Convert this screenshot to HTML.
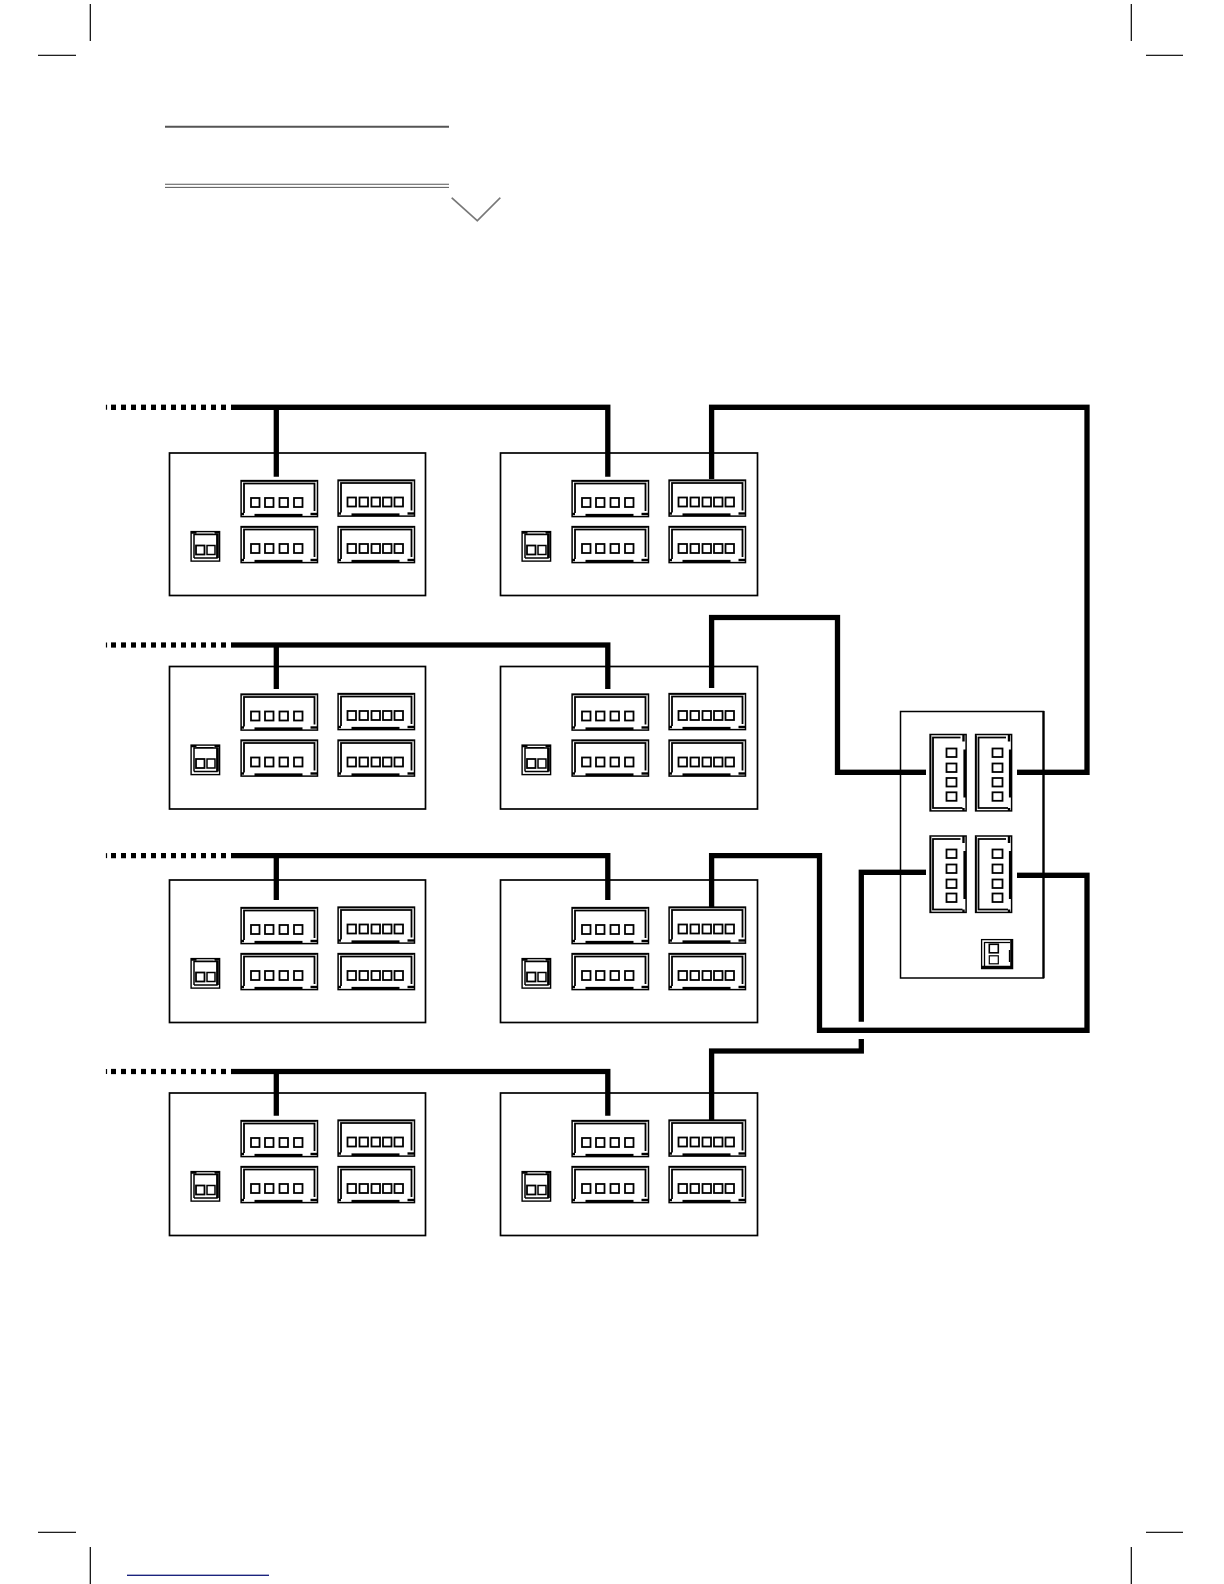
<!DOCTYPE html>
<html>
<head>
<meta charset="utf-8">
<style>
html,body{margin:0;padding:0;background:#fff;}
svg{display:block;}
</style>
</head>
<body>
<svg xmlns="http://www.w3.org/2000/svg" width="1224" height="1584" viewBox="0 0 1224 1584">
<defs>
  <g id="conn" fill="none" stroke="#000">
    <rect x="0.6" y="0.6" width="76.4" height="36" fill="#fff" stroke-width="1.5"/>
    <path d="M3.5 33 V3.5 H74 V31" stroke-width="1.8"/>
    <path d="M0 34 H3.5" stroke-width="2.4"/>
    <path d="M14 35 H62" stroke-width="2.2"/>
    <path d="M70 34 H77" stroke-width="2.4"/>
    <path d="M1 1.4 H76" stroke-width="1"/>
  </g>
  <g id="p"><rect x="0" y="0" width="8.5" height="9" fill="#fff" stroke="#000" stroke-width="1.8"/></g>
  <g id="c4">
    <use href="#conn"/>
    <use href="#p" x="10.5" y="18"/><use href="#p" x="24.5" y="18"/><use href="#p" x="39" y="18"/><use href="#p" x="53.5" y="18"/>
  </g>
  <g id="c5">
    <use href="#conn"/>
    <use href="#p" x="10" y="18"/><use href="#p" x="22" y="18"/><use href="#p" x="34" y="18"/><use href="#p" x="45.5" y="18"/><use href="#p" x="57" y="18"/>
  </g>
  <g id="small">
    <rect x="0.6" y="0.6" width="28.5" height="29.5" fill="#fff" stroke="#000" stroke-width="1.4"/>
    <path d="M3.5 27 V3.5 H26.5 V27 H3.5" fill="none" stroke="#000" stroke-width="1.5"/>
    <path d="M27 3 V27" stroke="#000" stroke-width="2.6"/>
    <path d="M0.6 1.6 H6 M24 1.6 H29" stroke="#000" stroke-width="2.2"/>
    <path d="M6 3 H23" stroke="#000" stroke-width="1"/>
    <rect x="5.5" y="14.5" width="8.5" height="9" fill="#fff" stroke="#000" stroke-width="1.8"/>
    <rect x="16.5" y="14.5" width="8" height="9" fill="#fff" stroke="#000" stroke-width="1.5"/>
  </g>
  <g id="bL">
    <rect x="0" y="0" width="256" height="142.5" fill="#fff" stroke="#000" stroke-width="1.7"/>
    <use href="#c4" x="71" y="27"/>
    <use href="#c5" x="168" y="26.5"/>
    <use href="#c4" x="71" y="73"/>
    <use href="#c5" x="168" y="73"/>
    <use href="#small" x="21" y="78"/>
  </g>
  <g id="bR">
    <rect x="0" y="0" width="257" height="142.5" fill="#fff" stroke="#000" stroke-width="1.7"/>
    <use href="#c4" x="71" y="27"/>
    <use href="#c5" x="168" y="26.5"/>
    <use href="#c4" x="71" y="73"/>
    <use href="#c5" x="168" y="73"/>
    <use href="#small" x="21" y="78"/>
  </g>
  <g id="vc">
    <g transform="rotate(-90) translate(-77 0)"><use href="#conn"/></g>
  </g>
</defs>

<!-- crop marks -->
<g stroke="#000" stroke-width="1.2" fill="none">
  <path d="M90.3 4 V41 M38 55.3 H76"/>
  <path d="M1131.3 4 V41 M1146 55.3 H1183"/>
  <path d="M38 1532.3 H76 M90.3 1547 V1584"/>
  <path d="M1131.3 1547 V1584 M1146 1532.3 H1183"/>
</g>
<path d="M127 1575.3 H269" stroke="#1a237e" stroke-width="1.3"/>

<!-- header rules -->
<path d="M165 126.7 H449" stroke="#555" stroke-width="2"/>
<path d="M165 184.3 H449 M165 187.4 H449" stroke="#555" stroke-width="1"/>
<path d="M451.7 197.7 L477.3 220.7 L500.3 197.7" fill="none" stroke="#777" stroke-width="1.7"/>

<!-- boards -->
<use href="#bL" x="169.5" y="453"/>
<use href="#bR" x="500.5" y="453"/>
<use href="#bL" x="169.5" y="666.5"/>
<use href="#bR" x="500.5" y="666.5"/>
<use href="#bL" x="169.5" y="880"/>
<use href="#bR" x="500.5" y="880"/>
<use href="#bL" x="169.5" y="1093"/>
<use href="#bR" x="500.5" y="1093"/>

<!-- right panel -->
<rect x="900.5" y="711.5" width="143" height="266.5" fill="#fff" stroke="#000" stroke-width="1.5"/>
<path d="M1043.5 711 V978" stroke="#000" stroke-width="2.4"/>
<g>
  <use href="#vc" transform="translate(929.5 734.5)"/>
  <use href="#vc" transform="translate(975 734.5)"/>
  <use href="#vc" transform="translate(929.5 836)"/>
  <use href="#vc" transform="translate(975 836)"/>
  <g fill="#fff" stroke="#000" stroke-width="1.8">
    <rect x="946.5" y="748.5" width="10" height="8.5"/>
    <rect x="946.5" y="763.5" width="10" height="8.5"/>
    <rect x="946.5" y="778" width="10" height="8.5"/>
    <rect x="946.5" y="792.3" width="10" height="8.5"/>
    <rect x="992.5" y="748.5" width="10" height="8.5"/>
    <rect x="992.5" y="763.5" width="10" height="8.5"/>
    <rect x="992.5" y="778" width="10" height="8.5"/>
    <rect x="992.5" y="792.3" width="10" height="8.5"/>
    <rect x="946.5" y="849.5" width="10" height="8.5"/>
    <rect x="946.5" y="864.5" width="10" height="8.5"/>
    <rect x="946.5" y="879.5" width="10" height="8.5"/>
    <rect x="946.5" y="893.5" width="10" height="8.5"/>
    <rect x="992.5" y="849.5" width="10" height="8.5"/>
    <rect x="992.5" y="864.5" width="10" height="8.5"/>
    <rect x="992.5" y="879.5" width="10" height="8.5"/>
    <rect x="992.5" y="893.5" width="10" height="8.5"/>
  </g>
  <!-- small vertical connector -->
  <rect x="981.6" y="939.6" width="31" height="29" fill="#fff" stroke="#000" stroke-width="1.3"/>
  <path d="M984.5 966 V942.5 H1010 M1009.5 950 V962" fill="none" stroke="#000" stroke-width="1.3"/>
  <path d="M981.6 967 H1012 M1011.5 940 V968" stroke="#000" stroke-width="2.6" fill="none"/>
  <rect x="989.3" y="944.3" width="9" height="8.5" fill="#fff" stroke="#000" stroke-width="1.6"/>
  <rect x="989.3" y="955.8" width="9" height="8" fill="#fff" stroke="#000" stroke-width="1.2"/>
</g>

<!-- wires -->
<g fill="none" stroke="#000" stroke-width="5.3" stroke-linejoin="miter">
  <!-- row 1 -->
  <path d="M231 407.3 H609 V476.7" stroke-opacity="0"/>
  <path d="M231 407.3 H607.8 V476.7"/>
  <path d="M276.3 407.3 V476.7"/>
  <path d="M711.6 479 V407.3 H1087 V772.3 H1017"/>
  <!-- row 2 -->
  <path d="M231 645 H607.8 V689"/>
  <path d="M276.3 645 V689"/>
  <path d="M711.6 688 V617.5 H837.5 V772.3 H926"/>
  <!-- row 3 -->
  <path d="M231 855.6 H607.8 V900"/>
  <path d="M276.3 855.6 V900"/>
  <path d="M711.6 908 V855.6 H819.5 V1030.3 H1087 V875.3 H1017"/>
  <!-- row 4 -->
  <path d="M231 1071.5 H607.8 V1115.7"/>
  <path d="M276.3 1071.5 V1115.7"/>
  <path d="M926 872.3 H861.3 V1021.7"/>
  <path d="M861.3 1039 V1051 H711.6 V1120"/>
  <!-- dotted lead-ins -->
  <path d="M111 407.3 H231" stroke-dasharray="5 5"/>
  <path d="M111 645 H231" stroke-dasharray="5 5"/>
  <path d="M111 855.6 H231" stroke-dasharray="5 5"/>
  <path d="M111 1071.5 H231" stroke-dasharray="5 5"/>
</g>
<g stroke="#000" stroke-width="1.2">
  <path d="M106.5 404.8 V409.8 M106.5 642.5 V647.5 M106.5 853.1 V858.1 M106.5 1069 V1074"/>
</g>
</svg>
</body>
</html>
